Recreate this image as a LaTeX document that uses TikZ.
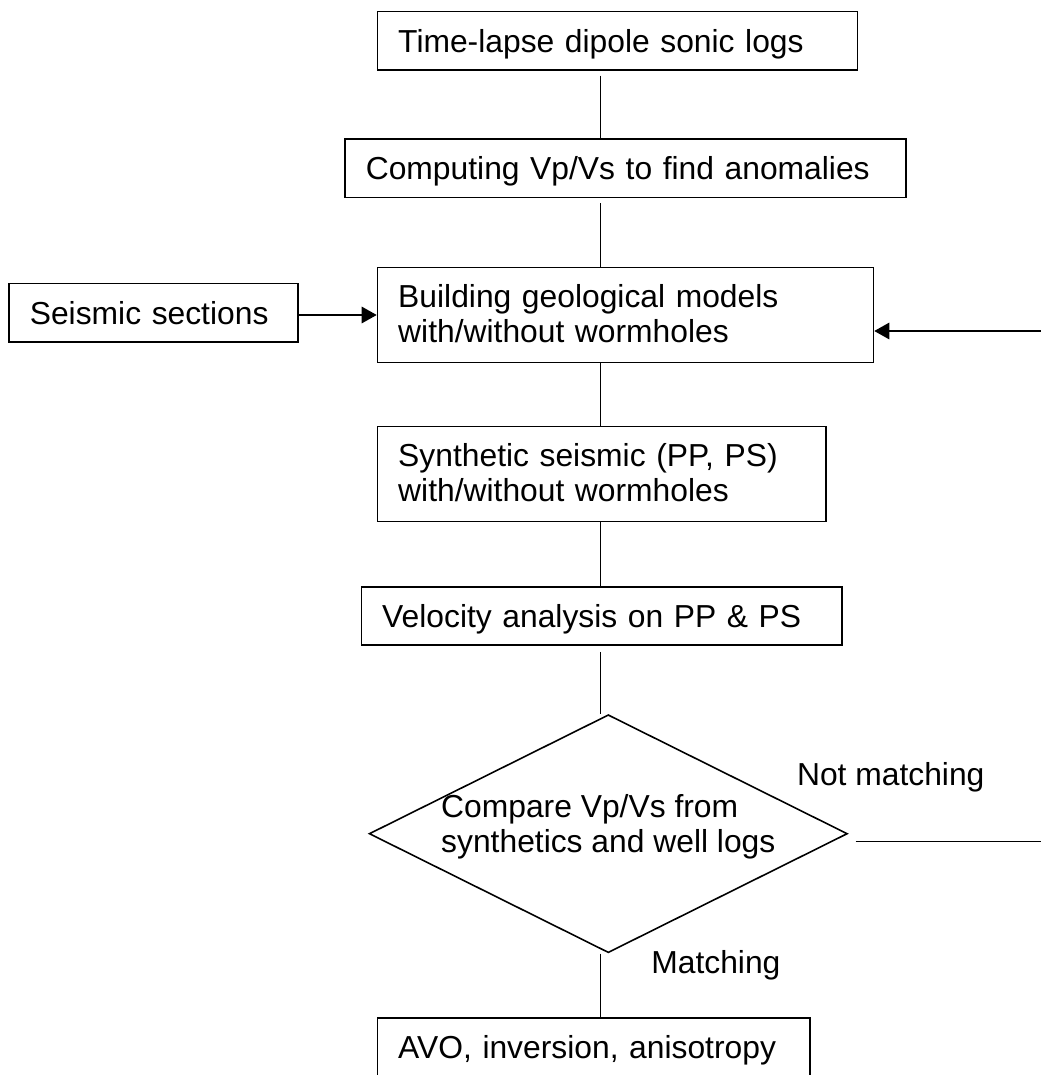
\documentclass[tikz,border=0pt]{standalone}
\usepackage{fontspec}
\setmainfont{Liberation Sans}
\usetikzlibrary{shapes.geometric, arrows.meta}
\lineskiplimit=-\maxdimen

\begin{document}
\begin{tikzpicture}[
  font=\fontsize{18.1pt}{20.1pt}\selectfont,
  stepbox/.style={draw, line width=0.9pt, anchor=north west, align=left, inner xsep=0.415cm, inner ysep=0pt, text width=#1, minimum height=1.166cm, text height=0.466cm, text depth=0pt},
  tallbox/.style={stepbox=#1, minimum height=1.9cm, text depth=0.766cm},
  decision/.style={draw, diamond, line width=0.9pt, shape aspect=2.01, minimum width=9.56cm, minimum height=4.76cm, inner sep=0pt, align=left, text height=1.095cm, text depth=0.339cm},
  link/.style={line width=0.8pt},
  arr/.style={-{Triangle[length=0.3cm, width=0.33cm]}, line width=0.8pt},
  lbl/.style={anchor=base west, inner sep=0pt},
]
  \useasboundingbox (0,0) rectangle (20.82,-21.5);
  \coordinate (spine) at (12.014,0);

  % Main chain
  \node[stepbox=8.77cm] (logs) at (7.534,-0.214) {Time-lapse dipole sonic logs};
  \node[stepbox=10.384cm] (vpvs) at (6.886,-2.766) {Computing Vp/Vs to find anomalies};
  \node[tallbox=9.09cm] (model) at (7.534,-5.334) {Building geological models\\with/without wormholes};
  \node[stepbox=4.944cm] (seis) at (0.166,-5.654) {Seismic sections};
  \node[tallbox=8.136cm] (synth) at (7.534,-8.514) {Synthetic seismic (PP, PS)\\with/without wormholes};
  \node[stepbox=8.776cm] (velo) at (7.214,-11.72) {Velocity analysis on PP \& PS};
  \node[decision] (cmp) at (12.166,-16.674) {Compare Vp/Vs from\\synthetics and well logs};
  \node[stepbox=7.816cm] (avo) at (7.534,-20.346) {AVO, inversion, anisotropy};

  % Branch labels
  \node[lbl] (nomatch) at (15.934,-15.7) {Not matching};
  \node[lbl] (match) at (13.02,-19.466) {Matching};

  % Loop ends at the right border
  \coordinate (loopin) at (20.82,-6.62);
  \coordinate (loopout) at (20.82,-16.834);

  \draw[link, shorten <=0.1cm] (logs.south -| spine) -- (vpvs.north -| spine);
  \draw[link, shorten <=0.1cm] (vpvs.south -| spine) -- (model.north -| spine);
  \draw[link] (model.south -| spine) -- (synth.north -| spine);
  \draw[link] (synth.south -| spine) -- (velo.north -| spine);
  \draw[link, shorten <=0.12cm] (velo.south -| spine) -- (cmp.north -| spine);
  \draw[link] (cmp.south -| spine) -- (avo.north -| spine);

  \draw[arr] (seis.east |- model.west) -- (model.west);
  \draw[arr] (loopin) -- (loopin -| model.east);
  \draw[link, shorten <=0.15cm] (loopout -| cmp.east) -- (loopout);
\end{tikzpicture}
\end{document}
